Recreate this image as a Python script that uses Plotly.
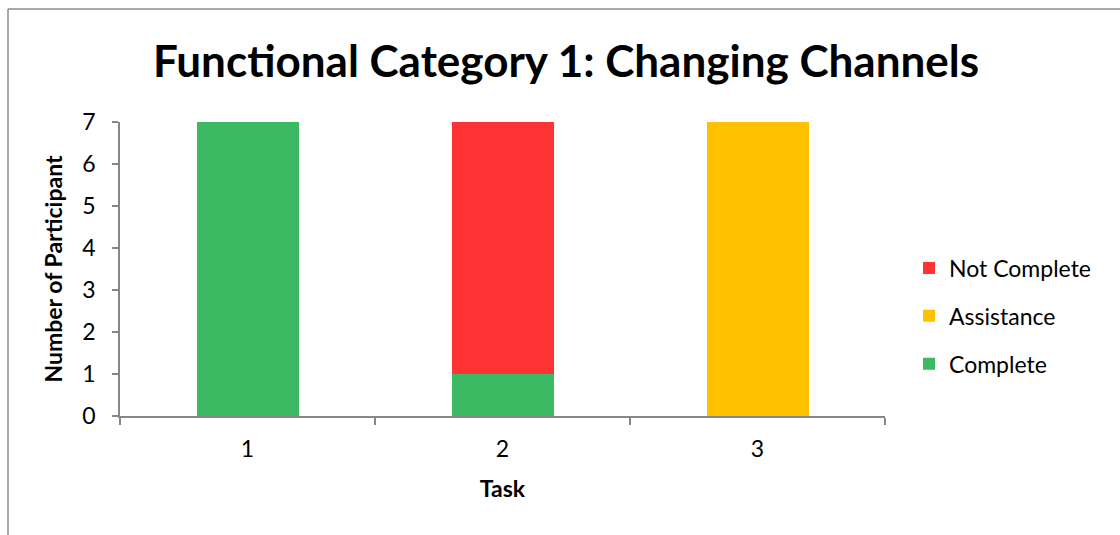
import plotly.graph_objects as go

tasks = ["1", "2", "3"]
complete = [7, 1, 0]
assistance = [0, 0, 7]
not_complete = [0, 6, 0]
y_ticks = [0, 1, 2, 3, 4, 5, 6, 7]

FONT = "Lato"
W, H = 1120, 535
L, R, T, B = 120, 885, 122, 416

fig = go.Figure()
series = [
    ("Complete", complete, "#3CB963", 3),
    ("Assistance", assistance, "#FFC000", 2),
    ("Not Complete", not_complete, "#FF3333", 1),
]
for name, vals, col, rank in series:
    fig.add_trace(go.Bar(x=tasks, y=vals, name=name, marker_color=col,
                         marker_line_width=0, legendgroup=name, legendrank=rank,
                         width=0.4))

def px_to_paper_x(px):
    return (px - L) / (R - L)

def px_to_paper_y(py):
    return (B - py) / (B - T)

border_col = "#8C8C8C"
fig.add_shape(type="line", xref="paper", yref="paper",
              x0=px_to_paper_x(8), x1=px_to_paper_x(8),
              y0=px_to_paper_y(9), y1=px_to_paper_y(560),
              line=dict(color=border_col, width=1.5))
fig.add_shape(type="line", xref="paper", yref="paper",
              x0=px_to_paper_x(8), x1=px_to_paper_x(1140),
              y0=px_to_paper_y(9), y1=px_to_paper_y(9),
              line=dict(color=border_col, width=1.5))

fig.update_layout(
    width=W, height=H,
    margin=dict(l=L, r=W - R, t=T, b=H - B, pad=0),
    barmode="stack",
    plot_bgcolor="white", paper_bgcolor="white",
    font=dict(family=FONT, color="black", size=23),
    title=dict(text="<b>Functional Category 1: Changing Channels</b>",
               x=566 / W, xanchor="center", y=1 - 62 / H, yanchor="middle",
               font=dict(family=FONT, size=44, color="black")),
    legend=dict(x=px_to_paper_x(909), xanchor="left",
                y=px_to_paper_y(316), yanchor="middle",
                traceorder="grouped", tracegroupgap=15,
                font=dict(family=FONT, size=23, color="black"),
                itemwidth=30),
    showlegend=True,
)
fig.update_xaxes(
    showline=True, linecolor="#868686", linewidth=1.5,
    ticks="outside", tickson="boundaries", ticklen=7, tickcolor="#868686",
    tickwidth=1.5, showgrid=False, ticklabelstandoff=12,
    title=dict(text="<b>Task</b>", font=dict(family=FONT, size=23), standoff=20),
    tickfont=dict(size=23),
)
fig.update_yaxes(
    range=[0, 7], tickvals=y_ticks, showline=True, linecolor="#868686",
    linewidth=1.5, ticks="outside", ticklen=6, tickcolor="#868686",
    tickwidth=1.5, showgrid=False, zeroline=False, ticklabelstandoff=12,
    title=dict(text="<b>Number of Participant</b>", font=dict(family=FONT, size=23),
               standoff=13),
    tickfont=dict(size=23),
)

fig.write_html("out.html")
